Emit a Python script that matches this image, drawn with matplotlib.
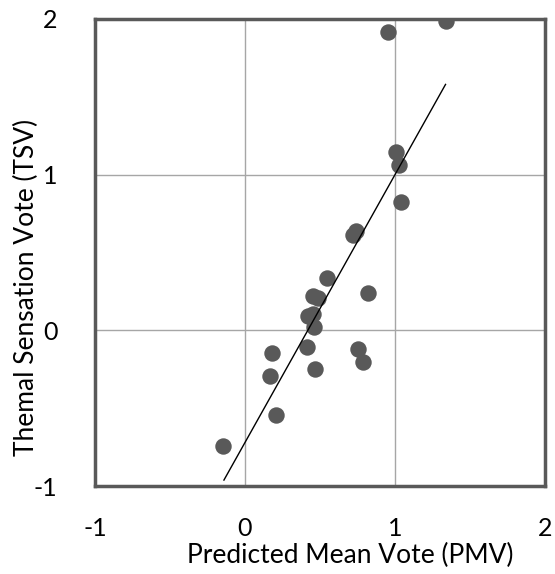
import matplotlib
matplotlib.use('Agg')
import matplotlib.pyplot as plt
import numpy as np

pmv = [0.546, 0.455, 0.488, 0.823, 0.421, 0.455, 0.459, 0.415, 0.182, 0.756,
       0.787, 0.466, 0.166, 0.206, -0.144, 0.954, 1.342, 1.009, 1.027, 1.043,
       0.72, 0.74]
tsv = [0.339, 0.221, 0.21, 0.238, 0.092, 0.103, 0.024, -0.105, -0.148, -0.118,
       -0.202, -0.247, -0.294, -0.545, -0.745, 1.917, 1.988, 1.148, 1.064, 0.826,
       0.61, 0.64]

# trendline as drawn in the picture
fit_x = [-0.14, 1.337]
fit_slope = 1.72
fit_intercept = -0.72

ticks = [-1, 0, 1, 2]

plt.rcParams['font.family'] = ['Lato', 'DejaVu Sans']

fig = plt.figure(figsize=(5.55, 5.74), dpi=100)
ax = fig.add_axes([0.171, 0.153, 0.811, 0.814])

ax.scatter(pmv, tsv, s=140, color='#595959', zorder=3, linewidths=0)
fx = np.array(fit_x)
ax.plot(fx, fit_slope * fx + fit_intercept, color='black', linewidth=1.0, zorder=4)

ax.set_xlim(-1, 2)
ax.set_ylim(-1, 2)
ax.set_xticks(ticks)
ax.set_yticks(ticks)
ax.set_xticklabels([str(t) for t in ticks], fontsize=18)
ax.set_yticklabels([str(t) for t in ticks], fontsize=18)
ax.tick_params(length=0)
ax.tick_params(axis='x', pad=22)
ax.tick_params(axis='y', pad=27)
ax.grid(True, color='#a6a6a6', linewidth=1.0)
ax.set_axisbelow(True)
for sp in ax.spines.values():
    sp.set_color('#595959')
    sp.set_linewidth(2.5)

ax.set_xlabel('Predicted Mean Vote (PMV)', fontsize=19)
ax.set_ylabel('Themal Sensation Vote (TSV)', fontsize=19)
ax.xaxis.set_label_coords(0.567, -0.122)
ax.yaxis.set_label_coords(-0.125, 0.425)

fig.savefig('out.png', dpi=100)
